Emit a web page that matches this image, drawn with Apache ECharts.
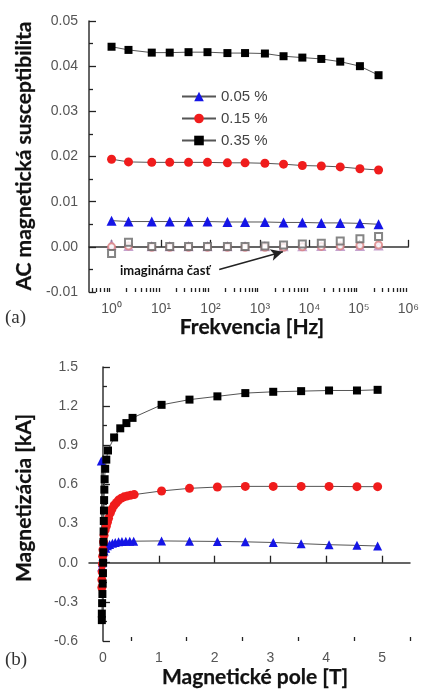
<!DOCTYPE html>
<html>
<head>
<meta charset="utf-8">
<script src="https://cdn.jsdelivr.net/npm/echarts@6/dist/echarts.min.js"></script>
<style>
html, body { margin: 0; padding: 0; background: #fff; }
#main { width: 422px; height: 689px; }
</style>
</head>
<body>
<div id="main"></div>
<script>
// (a) AC susceptibility vs frequency
const freq = [1, 2.2, 6.5, 15, 36, 87, 220, 500, 1260, 3000, 7200, 17400, 42000, 105000, 250000]
const chi005 = [0.0058, 0.0056, 0.0056, 0.0056, 0.0056, 0.0056, 0.0055, 0.0055, 0.0055, 0.0054, 0.0054, 0.0053, 0.0053, 0.0052, 0.0050]
const chi015 = [0.0194, 0.0188, 0.0187, 0.0187, 0.0187, 0.0187, 0.0186, 0.0186, 0.0185, 0.0183, 0.0180, 0.0179, 0.0177, 0.0173, 0.0170]
const chi035 = [0.0443, 0.0436, 0.0430, 0.0430, 0.0431, 0.0431, 0.0429, 0.0429, 0.0428, 0.0422, 0.0419, 0.0416, 0.0410, 0.0400, 0.0380]
const imag005 = [0.0004, 0.0001, 0.0000, 0.0000, 0.0000, 0.0000, 0.0000, 0.0000, 0.0000, 0.0000, 0.0000, 0.0001, 0.0001, 0.0001, 0.0002]
const imag015 = [0.0000, 0.0002, -0.0001, -0.0001, -0.0001, -0.0001, -0.0001, -0.0001, -0.0001, -0.0001, 0.0000, 0.0001, 0.0002, 0.0003, 0.0004]
const imag035 = [-0.0015, 0.0010, 0.0001, 0.0001, 0.0001, 0.0001, 0.0001, 0.0001, 0.0002, 0.0004, 0.0006, 0.0008, 0.0013, 0.0018, 0.0023]
const freqLabels = [1, 10, 100, 1000, 10000, 100000, 1000000]

// (b) magnetization vs field
const fieldBlack = [-0.02, -0.02, -0.015, -0.01, -0.005, 0, 0.003, 0.006, 0.009, 0.012, 0.015, 0.018, 0.021, 0.025, 0.03, 0.04, 0.06, 0.09, 0.2, 0.31, 0.42, 0.53, 1.05, 1.55, 2.05, 2.55, 3.05, 3.55, 4.05, 4.55, 4.92]
const magBlack = [-0.44, -0.39, -0.31, -0.24, -0.16, -0.08, 0.0, 0.08, 0.16, 0.24, 0.32, 0.40, 0.48, 0.56, 0.64, 0.72, 0.79, 0.86, 0.96, 1.03, 1.07, 1.11, 1.21, 1.25, 1.275, 1.30, 1.31, 1.315, 1.32, 1.32, 1.325]
const fieldRed = [-0.02, -0.02, -0.015, -0.01, -0.005, 0, 0.01, 0.02, 0.04, 0.06, 0.08, 0.1, 0.13, 0.16, 0.2, 0.24, 0.28, 0.33, 0.38, 0.44, 0.5, 0.56, 1.05, 1.55, 2.05, 2.55, 3.05, 3.55, 4.05, 4.55, 4.92]
const magRed = [-0.19, -0.13, -0.07, -0.01, 0.05, 0.1, 0.16, 0.21, 0.25, 0.28, 0.31, 0.34, 0.38, 0.41, 0.44, 0.46, 0.48, 0.495, 0.505, 0.512, 0.518, 0.522, 0.55, 0.57, 0.58, 0.585, 0.585, 0.585, 0.585, 0.583, 0.583]
const fieldBlue = [-0.03, -0.02, -0.01, 0, 0.02, 0.05, 0.08, 0.12, 0.17, 0.22, 0.28, 0.34, 0.41, 0.48, 0.55, 1.05, 1.55, 2.05, 2.55, 3.05, 3.55, 4.05, 4.55, 4.92]
const magBlue = [0.78, -0.03, 0.0, 0.05, 0.09, 0.11, 0.13, 0.14, 0.15, 0.155, 0.16, 0.163, 0.165, 0.165, 0.165, 0.167, 0.165, 0.163, 0.16, 0.155, 0.146, 0.138, 0.133, 0.128]
const fieldLabels = [0, 1, 2, 3, 4, 5]

const names = ["0.05 %", "0.15 %", "0.35 %"]
const colors = ["#1515e6", "#f01c1c", "#000000"]

const sup = ["⁰", "¹", "²", "³", "⁴", "⁵", "⁶"]
const minorFreq = []
for (let n = -1; n < 6; n++) {
  for (let k = 2; k <= 9; k++) {
    const v = k * Math.pow(10, n)
    if (v >= 0.35 && v <= 1e6) minorFreq.push(v)
  }
}
const halfField = [0.5, 1.5, 2.5, 3.5, 4.5, 5.5]

const zip = (a, b) => a.map((v, i) => [v, b[i]])

var chartDom = document.getElementById("main")
var myChart = echarts.init(chartDom)

const lblFont = { fontFamily: "Liberation Sans", fontSize: 14, color: "#555" }
const axLine = { lineStyle: { color: "#333", width: 1.5 } }
const tickStyle = { color: "#222", width: 1.3 }

const lineSeries = (name, color, symbol, size, data, xi, yi) => ({
  name: name,
  type: "line",
  xAxisIndex: xi,
  yAxisIndex: yi,
  data: data,
  symbol: symbol,
  symbolSize: size,
  showSymbol: true,
  itemStyle: { color: color },
  lineStyle: { color: "#555", width: 1 },
  emphasis: { disabled: true },
  z: 3
})

const imagSeries = (symbol, color, data) => ({
  type: "scatter",
  xAxisIndex: 0,
  yAxisIndex: 0,
  data: zip(freq, data),
  symbol: symbol,
  symbolSize: 7,
  itemStyle: { color: color, borderColor: color, borderWidth: 1 },
  emphasis: { disabled: true },
  z: 2
})

const titleText = (text, x, y, rot) => ({
  type: "text",
  x: x,
  y: y,
  rotation: rot,
  style: {
    text: text,
    fontFamily: "Lato",
    fontSize: 21,
    fontWeight: "bold",
    fill: "#111",
    stroke: "#111",
    lineWidth: 0.25,
    align: "center",
    verticalAlign: "middle"
  }
})

const option = {
  animation: false,
  backgroundColor: "#fff",
  grid: [
    { left: 89, top: 21, width: 324, height: 271 },
    { left: 89, top: 367, width: 321, height: 274 }
  ],
  legend: {
    data: names,
    orient: "vertical",
    left: 176,
    top: 84,
    itemWidth: 34,
    itemHeight: 12,
    itemGap: 7,
    textStyle: { fontFamily: "Liberation Sans", fontSize: 15, color: "#444" }
  },
  xAxis: [
    {
      type: "log",
      gridIndex: 0,
      position: "bottom",
      logBase: 10,
      min: 0.35,
      max: 1000000,
      axisLine: axLine,
      splitLine: { show: false },
      axisTick: { inside: true, length: 7, customValues: freqLabels, lineStyle: tickStyle },
      axisLabel: {
        customValues: freqLabels,
        margin: 10,
        ...lblFont,
        formatter: (v) => "10" + sup[Math.round(Math.log10(v))]
      }
    },
    {
      type: "log",
      gridIndex: 0,
      position: "bottom",
      logBase: 10,
      min: 0.35,
      max: 1000000,
      axisLine: { show: false },
      splitLine: { show: false },
      axisTick: { show: true, inside: true, length: 4, customValues: minorFreq, lineStyle: tickStyle },
      axisLabel: { show: false }
    },
    {
      type: "value",
      gridIndex: 1,
      position: "bottom",
      min: -0.25,
      max: 5.5,
      axisLine: axLine,
      splitLine: { show: false },
      axisTick: { inside: true, length: 7, customValues: fieldLabels, lineStyle: tickStyle },
      axisLabel: { customValues: fieldLabels, margin: 10, ...lblFont }
    },
    {
      type: "value",
      gridIndex: 1,
      position: "bottom",
      min: -0.25,
      max: 5.5,
      axisLine: { show: false },
      splitLine: { show: false },
      axisTick: { show: true, inside: true, length: 4, customValues: halfField, lineStyle: tickStyle },
      axisLabel: { show: false }
    }
  ],
  yAxis: [
    {
      type: "value",
      gridIndex: 0,
      min: -0.01,
      max: 0.05,
      interval: 0.01,
      axisLine: { show: true, ...axLine },
      splitLine: { show: false },
      axisTick: { inside: true, length: 7, lineStyle: tickStyle },
      minorTick: { show: true, splitNumber: 2, length: 4, lineStyle: tickStyle },
      axisLabel: { ...lblFont, margin: 11, formatter: (v) => v.toFixed(2) }
    },
    {
      type: "value",
      gridIndex: 1,
      min: -0.6,
      max: 1.5,
      interval: 0.3,
      axisLine: { show: true, ...axLine },
      splitLine: { show: false },
      axisTick: { inside: true, length: 7, lineStyle: tickStyle },
      minorTick: { show: true, splitNumber: 2, length: 4, lineStyle: tickStyle },
      axisLabel: { ...lblFont, margin: 11, formatter: (v) => v.toFixed(1) }
    }
  ],
  series: [
    lineSeries(names[0], colors[0], "triangle", 10, zip(freq, chi005), 0, 0),
    lineSeries(names[1], colors[1], "circle", 9, zip(freq, chi015), 0, 0),
    lineSeries(names[2], colors[2], "rect", 8, zip(freq, chi035), 0, 0),
    imagSeries("emptyTriangle", "#b88bc0", imag005),
    imagSeries("emptyCircle", "#d98080", imag015),
    Object.assign(imagSeries("emptyRect", "#666", imag035), {
      markLine: {
        silent: true,
        symbol: ["none", "arrow"],
        symbolSize: [9, 12],
        label: { show: false },
        lineStyle: { color: "#222", width: 1.5, type: "solid" },
        data: [[{ coord: [150, -0.0050] }, { coord: [2900, -0.0011] }]]
      }
    }),
    lineSeries(names[0], colors[0], "triangle", 9, zip(fieldBlue, magBlue), 2, 1),
    lineSeries(names[1], colors[1], "circle", 9, zip(fieldRed, magRed), 2, 1),
    lineSeries(names[2], colors[2], "rect", 8, zip(fieldBlack, magBlack), 2, 1)
  ],
  graphic: [
    titleText("AC magnetická susceptibilita", 24, 156, Math.PI / 2),
    titleText("Frekvencia [Hz]", 252, 327, 0),
    titleText("Magnetizácia [kA]", 24, 498, Math.PI / 2),
    titleText("Magnetické pole [T]", 255, 677, 0),
    {
      type: "text",
      x: 120,
      y: 271,
      style: { text: "imaginárna časť", fontFamily: "Lato", fontSize: 13, fontWeight: "bold", fill: "#111", verticalAlign: "middle" }
    },
    {
      type: "text",
      x: 5,
      y: 318,
      style: { text: "(a)", fontFamily: "Liberation Serif", fontSize: 19, fill: "#333", verticalAlign: "middle" }
    },
    {
      type: "text",
      x: 5,
      y: 660,
      style: { text: "(b)", fontFamily: "Liberation Serif", fontSize: 19, fill: "#333", verticalAlign: "middle" }
    }
  ]
}

option && myChart.setOption(option)
</script>
</body>
</html>
